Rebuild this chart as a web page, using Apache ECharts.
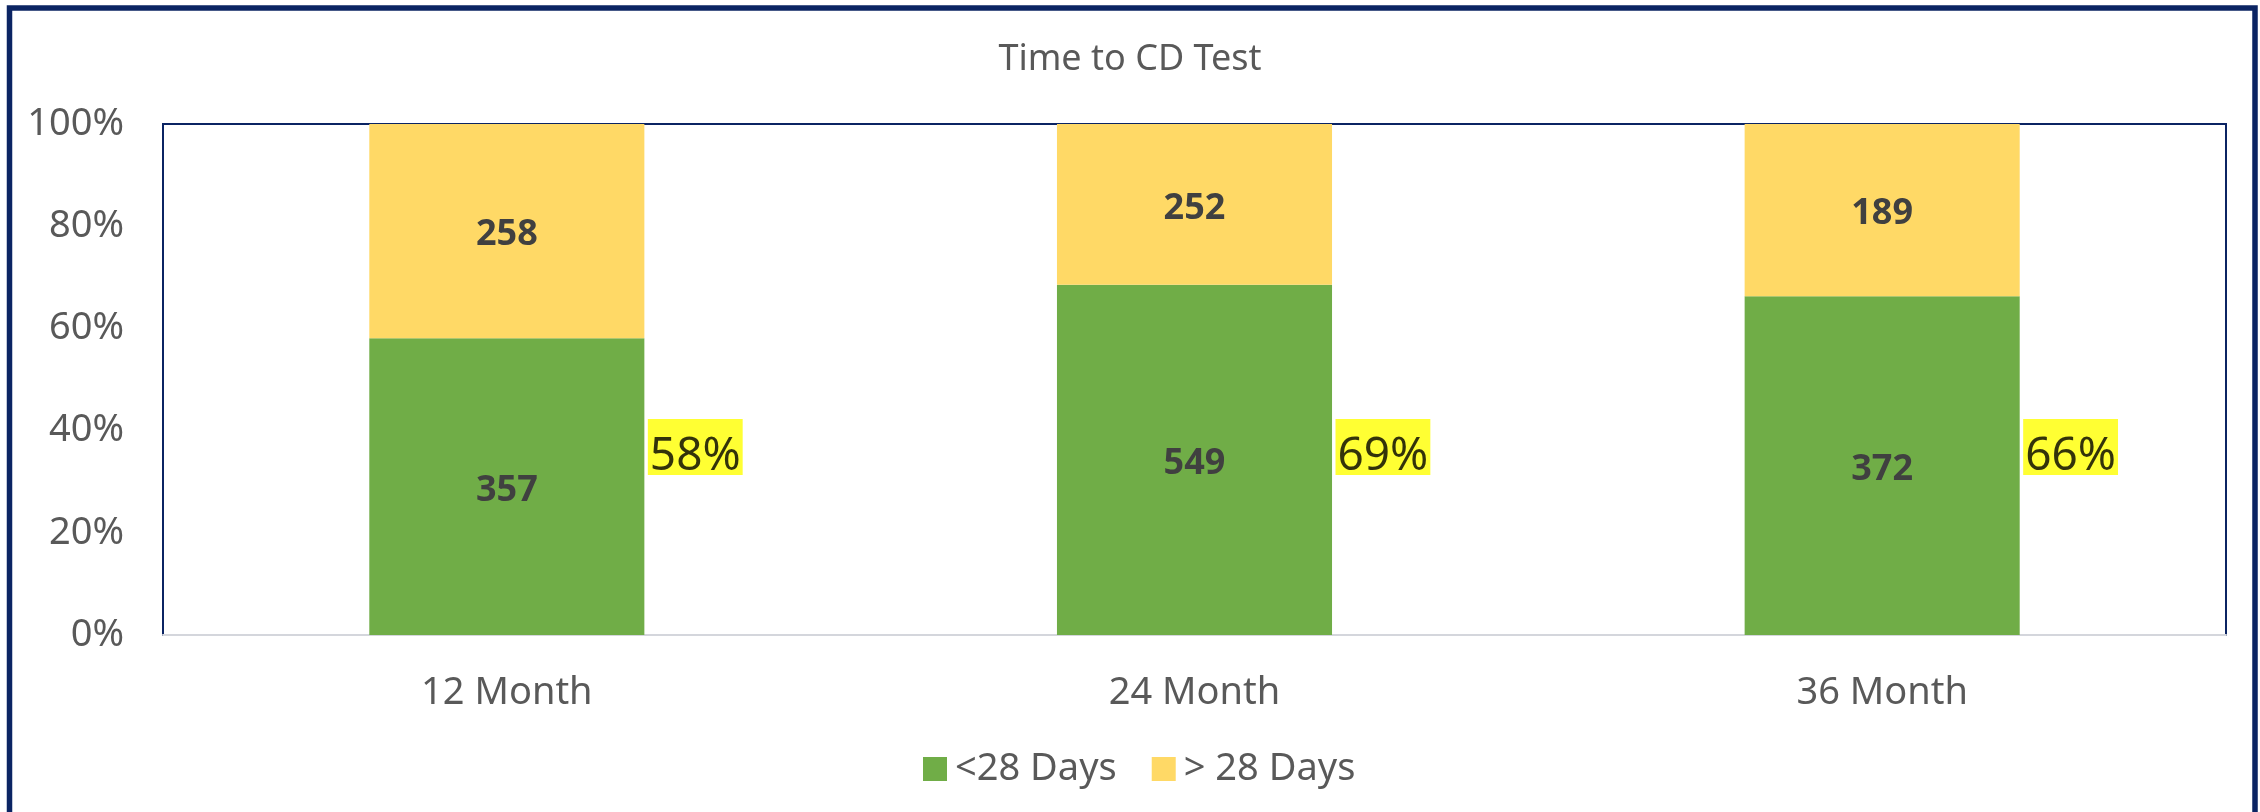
<!DOCTYPE html>
<html>
<head>
<meta charset="utf-8">
<title>Time to CD Test</title>
<script src="https://cdn.jsdelivr.net/npm/echarts@6/dist/echarts.min.js"></script>
<style>
  html, body {
    margin: 0;
    padding: 0;
    background: #ffffff;
  }
  #chart {
    width: 2260px;
    height: 812px;
  }
</style>
</head>
<body>
<div id="chart"></div>
<script>
const categories = ["12 Month", "24 Month", "36 Month"];
const under28 = [357, 549, 372];
const over28 = [258, 252, 189];
const yTicks = [0, 20, 40, 60, 80, 100];

// 100% stacked: each bar is share of the month total
const totals = under28.map((v, i) => v + over28[i]);
const underShare = under28.map((v, i) => (v / totals[i]) * 100);
const overShare = over28.map((v, i) => (v / totals[i]) * 100);

const navy = "#0b2463";
const textGrey = "#595959";
const font = "Noto Sans";

const chart = echarts.init(document.getElementById("chart"));

const option = {
  backgroundColor: "#ffffff",
  animation: false,
  title: {
    text: "Time to CD Test",
    left: "center",
    top: 37,
    textStyle: {
      fontFamily: font,
      fontSize: 36,
      fontWeight: "normal",
      color: textGrey,
    },
  },
  legend: {
    data: ["<28 Days", "> 28 Days"],
    left: 918,
    top: 745,
    icon: "rect",
    itemWidth: 24,
    itemHeight: 24,
    itemGap: 35,
    textStyle: {
      fontFamily: font,
      fontSize: 38,
      color: textGrey,
      padding: [0, 0, 0, 3],
    },
  },
  grid: {
    show: true,
    left: 163,
    right: 34,
    top: 124,
    bottom: 177,
    borderColor: navy,
    borderWidth: 2,
    backgroundColor: "#ffffff",
  },
  xAxis: {
    type: "category",
    data: categories,
    axisLine: { lineStyle: { color: "#d4d6dc", width: 2 } },
    axisTick: { show: false },
    axisLabel: {
      margin: 39,
      fontFamily: font,
      fontSize: 38,
      color: textGrey,
    },
  },
  yAxis: {
    type: "value",
    min: yTicks[0],
    max: yTicks[yTicks.length - 1],
    interval: 20,
    axisLine: { show: false },
    axisTick: { show: false },
    splitLine: { show: false },
    axisLabel: {
      margin: 39,
      fontFamily: font,
      fontSize: 38,
      color: textGrey,
      formatter: "{value}%",
    },
  },
  series: [
    {
      name: "<28 Days",
      type: "bar",
      stack: "days",
      barCategoryGap: "60%",
      data: underShare,
      itemStyle: { color: "#70ad47" },
      label: {
        show: true,
        position: "inside",
        offset: [0, 4],
        fontFamily: font,
        fontSize: 36,
        fontWeight: "bold",
        color: "#404040",
        formatter: (p) => String(under28[p.dataIndex]),
      },
    },
    {
      name: "> 28 Days",
      type: "bar",
      stack: "days",
      data: overShare,
      itemStyle: { color: "#ffd966" },
      label: {
        show: true,
        position: "inside",
        offset: [0, 4],
        fontFamily: font,
        fontSize: 36,
        fontWeight: "bold",
        color: "#404040",
        formatter: (p) => String(over28[p.dataIndex]),
      },
    },
    {
      // highlighted share labels beside each bar
      name: "share",
      type: "scatter",
      silent: true,
      symbolSize: 0,
      z: 10,
      data: categories.map((c, i) => [i, 36.8]),
      label: {
        show: true,
        position: "right",
        distance: 141,
        backgroundColor: "#ffff00",
        padding: [0, 2, 0, 2],
        formatter: (p) => "{s| }\n{t|" + Math.round(underShare[p.dataIndex]) + "%}",
        rich: {
          s: { fontSize: 1, lineHeight: 20 },
          t: {
            fontFamily: font,
            fontSize: 46,
            lineHeight: 36,
            color: "#000000",
          },
        },
      },
    },
  ],
  graphic: [
    {
      type: "rect",
      silent: true,
      shape: { x: 9.5, y: 8, width: 2245.5, height: 1000 },
      style: { fill: "none", stroke: navy, lineWidth: 5.5 },
    },
  ],
};

chart.setOption(option);
</script>
</body>
</html>
